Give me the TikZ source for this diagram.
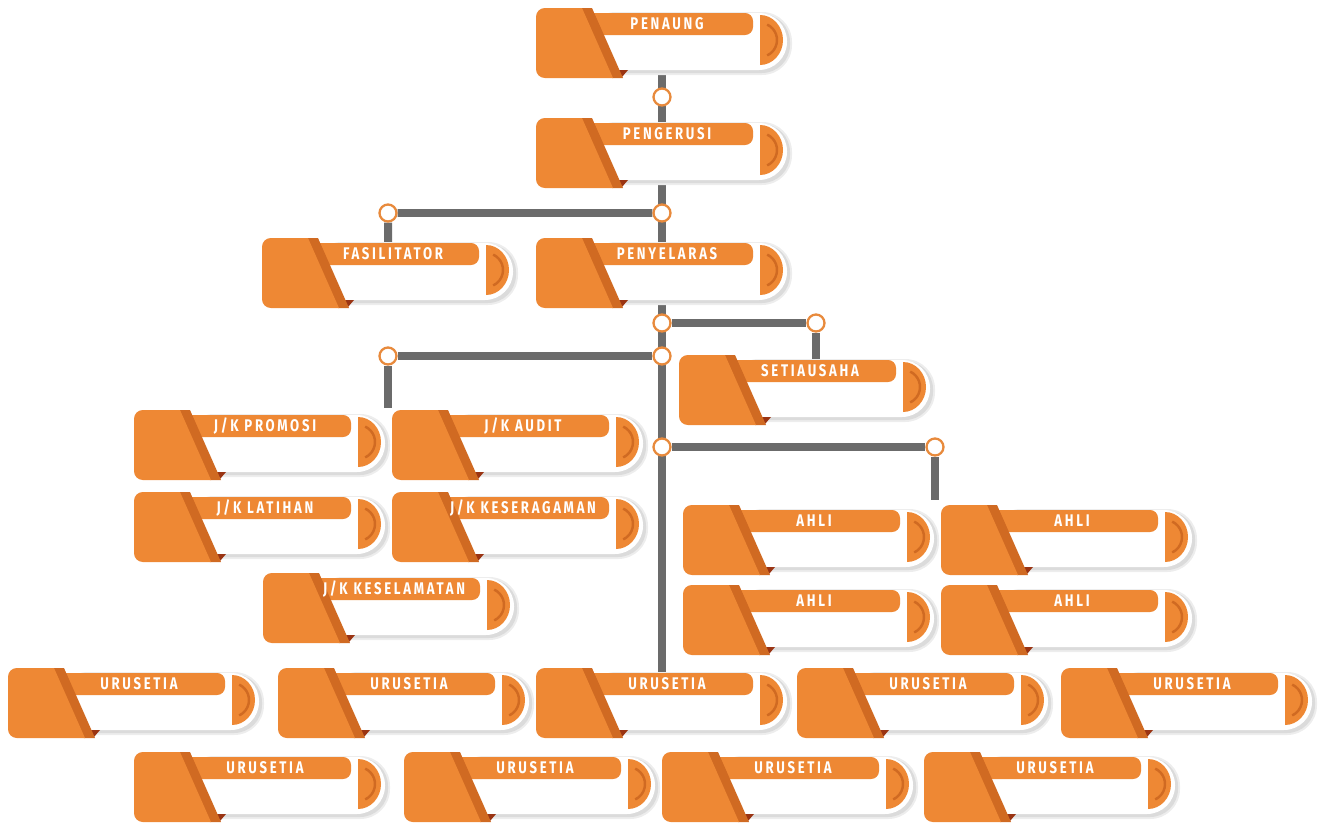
\documentclass[tikz,border=0pt]{standalone}
\usepackage{fontspec}
\newfontfamily\cardfont[FakeStretch=0.78,LetterSpace=16]{Fira Sans}
\usetikzlibrary{positioning,calc}
\pgfdeclarelayer{background}
\pgfsetlayers{background,main}

\definecolor{cardorange}{HTML}{EE8834}
\definecolor{carddark}{HTML}{D06A22}
\definecolor{cardfold}{HTML}{9A3413}
\definecolor{linkgray}{HTML}{6B6B6B}
\definecolor{ringorange}{HTML}{E88A3C}

\tikzset{
    cardbox/.style = {shape=rectangle, inner sep=0pt, minimum width=5.04cm, minimum height=1.4cm},
    cardlabel/.style = {text=white, inner sep=0pt, font=\cardfont\bfseries\fontsize{9.6}{10}\selectfont},
    joint/.style = {circle, draw=ringorange, fill=white, line width=1.3pt, inner sep=0pt, minimum size=0.34cm},
    link/.style = {draw=linkgray, line width=4.5pt},
}

% one card: name, left, top, text
\newcommand\orgcard[4]{%
    \node[cardbox, anchor=north west] (#1) at (#2,#3) {};
    \begin{scope}[shift={(#1.north west)}]
        \fill[black!7, rounded corners=17pt] (50,4) rectangle (256,67);
        \fill[black!14, rounded corners=16pt] (51,6) rectangle (254,65);
        \fill[white, rounded corners=16pt] (50,5) rectangle (251,62);
        \fill[cardorange] (224,7) arc[start angle=-90, end angle=90, x radius=23, y radius=25] -- cycle;
        \draw[carddark, line width=1.4pt] ([shift={(-65:17)}]224,32) arc[start angle=-65, end angle=65, radius=17];
        \fill[cardorange, rounded corners=4.5pt] (50,5) rectangle (217,27);
        \fill[cardfold] (82,62) -- (92,62) -- (86,69) -- cycle;
        \fill[carddark] (44,0) -- (56,0) -- (87,70) -- (76,70) -- cycle;
        \fill[cardorange] (46,0) [rounded corners=5pt] -- (0,0) -- (0,70) [sharp corners] -- (77,70) -- cycle;
        \node[cardlabel] (#1-txt) at (131,16) {#4};
    \end{scope}
}

\begin{document}
\begin{tikzpicture}[x=0.02cm, y=-0.02cm]
    \useasboundingbox (0,0) rectangle (1322,825);

    \orgcard{penaung}{536}{8}{PENAUNG}
    \orgcard{pengerusi}{536}{118}{PENGERUSI}
    \orgcard{fasilitator}{262}{238}{FASILITATOR}
    \orgcard{penyelaras}{536}{238}{PENYELARAS}
    \orgcard{setiausaha}{679}{355}{SETIAUSAHA}

    \orgcard{promosi}{134}{410}{J/K PROMOSI}
    \orgcard{audit}{392}{410}{J/K AUDIT}
    \orgcard{latihan}{134}{492}{J/K LATIHAN}
    \orgcard{keseragaman}{392}{492}{J/K KESERAGAMAN}
    \orgcard{keselamatan}{263}{573}{J/K KESELAMATAN}

    \orgcard{ahlia}{683}{505}{AHLI}
    \orgcard{ahlib}{941}{505}{AHLI}
    \orgcard{ahlic}{683}{585}{AHLI}
    \orgcard{ahlid}{941}{585}{AHLI}

    \orgcard{urusetiaa}{8}{668}{URUSETIA}
    \orgcard{urusetiab}{278}{668}{URUSETIA}
    \orgcard{urusetiac}{536}{668}{URUSETIA}
    \orgcard{urusetiad}{797}{668}{URUSETIA}
    \orgcard{urusetiae}{1061}{668}{URUSETIA}
    \orgcard{urusetiaf}{134}{752}{URUSETIA}
    \orgcard{urusetiag}{404}{752}{URUSETIA}
    \orgcard{urusetiah}{662}{752}{URUSETIA}
    \orgcard{urusetiai}{924}{752}{URUSETIA}

    % junctions
    \node[joint] (j1) at (662,97) {};
    \node[joint] (j2) at (662,213) {};
    \node[joint] (j3) at (388,213) {};
    \node[joint] (j4) at (662,323) {};
    \node[joint] (j5) at (816,323) {};
    \node[joint] (j6) at (662,356) {};
    \node[joint] (j7) at (388,356) {};
    \node[joint] (j8) at (662,447) {};
    \node[joint] (j9) at (935,447) {};
    \coordinate (jkend) at (388,408);
    \coordinate (ahliend) at (935,500);

    \begin{pgfonlayer}{background}
        \draw[link] (penaung.center) -- (pengerusi.center);
        \draw[link] (pengerusi.center) -- (penyelaras.center);
        \draw[link] (j2) -- (j3) -- (fasilitator.center);
        \draw[link] (penyelaras.center) -- (urusetiac.center);
        \draw[link] (j4) -- (j5) -- (j5 |- setiausaha.center);
        \draw[link] (j6) -- (j7) -- (jkend);
        \draw[link] (j8) -- (j9) -- (ahliend);
    \end{pgfonlayer}
\end{tikzpicture}
\end{document}
